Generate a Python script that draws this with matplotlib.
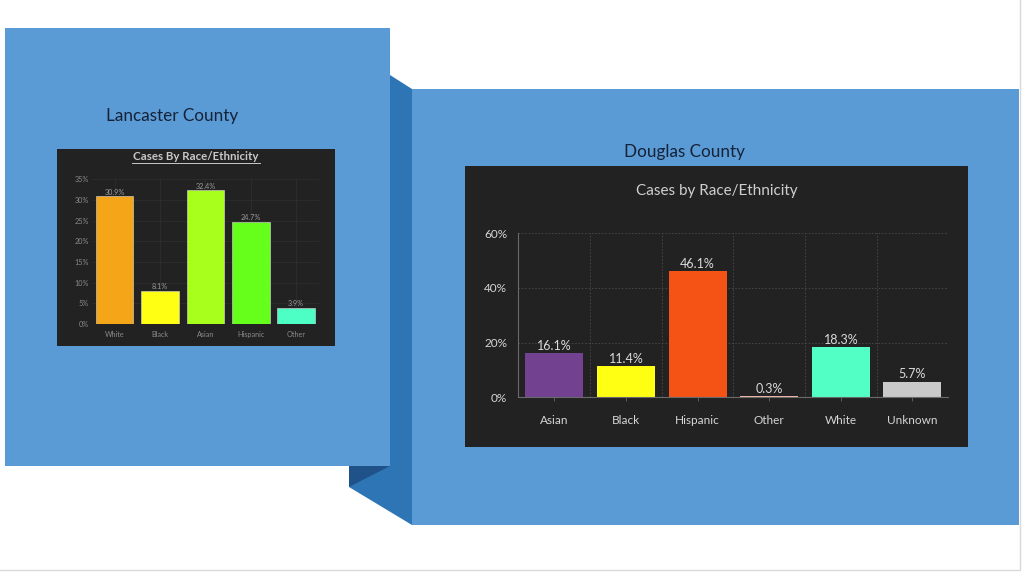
import numpy as np
import matplotlib
matplotlib.use('Agg')
import matplotlib.pyplot as plt
from matplotlib.patches import Rectangle, Polygon
from matplotlib.ticker import FuncFormatter

plt.rcParams['font.family'] = ['Lato', 'DejaVu Sans']

# ---------------------------------------------------------------------------
# data
# ---------------------------------------------------------------------------
lan_cats = ['White', 'Black', 'Asian', 'Hispanic', 'Other']
lan_vals = [30.9, 8.1, 32.4, 24.7, 3.9]
lan_colors = ['#F5A518', '#FFFF14', '#A8FF1C', '#66FF1C', '#4DFFC4']

dou_cats = ['Asian', 'Black', 'Hispanic', 'Other', 'White', 'Unknown']
dou_vals = [16.1, 11.4, 46.1, 0.3, 18.3, 5.7]
dou_colors = ['#724190', '#FFFF14', '#F55216', '#F2B8A8', '#52FFC4', '#C9C9C9']

W, H = 1024, 576
fig = plt.figure(figsize=(W / 100, H / 100), dpi=100)
fig.patch.set_facecolor('white')

# ---------------------------------------------------------------------------
# slide decoration (pixel coordinates)
# ---------------------------------------------------------------------------
deco = fig.add_axes([0, 0, 1, 1])
deco.set_xlim(0, W)
deco.set_ylim(H, 0)
deco.axis('off')

BLUE = '#5B9BD5'
DARK = '#2E75B6'
DARKER = '#1F5288'

# slide border
deco.plot([1020, 1020, 0], [0, 570, 570], color='#d9d9d9', lw=1)

# fold between the panels
deco.add_patch(Polygon([(390, 75), (412, 89), (412, 525), (349, 487),
                        (349, 466), (390, 466)], closed=True,
                       facecolor=DARK, edgecolor='none'))
deco.add_patch(Polygon([(349, 466), (390, 466), (349, 487)], closed=True,
                       facecolor=DARKER, edgecolor='none'))
# panels
deco.add_patch(Rectangle((5, 28), 385, 438, facecolor=BLUE, edgecolor='none'))
deco.add_patch(Rectangle((412, 89), 607, 436, facecolor=BLUE, edgecolor='none'))

deco.text(172, 116, 'Lancaster County', fontsize=12.3, color='#152238',
          ha='center', va='center')
deco.text(684, 152, 'Douglas County', fontsize=12.3, color='#152238',
          ha='center', va='center')

# chart backgrounds
deco.add_patch(Rectangle((57, 149), 278, 197, facecolor='#222222', edgecolor='none'))
deco.add_patch(Rectangle((465, 166), 503, 281, facecolor='#222222', edgecolor='none'))

# titles
deco.text(196, 156.5, 'Cases By Race/Ethnicity', fontsize=8.3, fontweight='bold',
          color='#c8c8c8', ha='center', va='center')
deco.plot([132, 260], [162.5, 162.5], color='#c8c8c8', lw=0.7)
deco.text(717, 191, 'Cases by Race/Ethnicity', fontsize=11,
          color='#cfcfcf', ha='center', va='center')

pct = FuncFormatter(lambda v, p: f'{v:.0f}%')

# ---------------------------------------------------------------------------
# Lancaster chart
# ---------------------------------------------------------------------------
ax1 = fig.add_axes([91.8 / W, (H - 324) / H, (318.9 - 91.8) / W, (324 - 179.3) / H])
ax1.set_facecolor('none')
x1 = np.arange(len(lan_cats))
ax1.bar(x1, lan_vals, width=0.83, color=lan_colors, edgecolor='#dddddd', linewidth=0.4)
for xi, v in zip(x1, lan_vals):
    ax1.annotate(f'{v:.1f}%', (xi, v), xytext=(0, 0.3), textcoords='offset points',
                 ha='center', va='bottom', fontsize=5.2, color='#9a9a9a')
ax1.set_xlim(-0.5, len(lan_cats) - 0.5)
ax1.set_ylim(0, 35)
ax1.set_yticks(np.arange(0, 36, 5))
ax1.yaxis.set_major_formatter(pct)
ax1.set_xticks(x1)
ax1.set_xticklabels(lan_cats)
ax1.tick_params(axis='both', labelsize=5.2, colors='#8a8a8a', length=0, pad=5)
ax1.tick_params(axis='y', pad=2)
ax1.grid(True, color='#333333', lw=0.4)
ax1.set_axisbelow(True)
for s in ax1.spines.values():
    s.set_visible(False)
ax1.axhline(0, color='#555555', lw=0.6)

# ---------------------------------------------------------------------------
# Douglas chart
# ---------------------------------------------------------------------------
ax2 = fig.add_axes([518.4 / W, (H - 397.3) / H, (948.3 - 518.4) / W, (397.3 - 233.3) / H])
ax2.set_facecolor('none')
x2 = np.arange(len(dou_cats))
ax2.bar(x2, dou_vals, width=0.81, color=dou_colors, edgecolor='none')
for xi, v in zip(x2, dou_vals):
    ax2.annotate(f'{v:.1f}%', (xi, v), xytext=(0, 1), textcoords='offset points',
                 ha='center', va='bottom', fontsize=9, color='#dadada')
ax2.set_xlim(-0.5, len(dou_cats) - 0.5)
ax2.set_ylim(0, 60)
ax2.set_yticks([0, 20, 40, 60])
ax2.yaxis.set_major_formatter(pct)
ax2.set_xticks(x2)
ax2.set_xticklabels(dou_cats)
ax2.tick_params(axis='x', labelsize=8.5, colors='#d6d6d6', length=3, width=0.6,
                pad=10)
ax2.tick_params(axis='x', color='#666666')
ax2.tick_params(axis='y', labelsize=8.5, colors='#d6d6d6', length=0, pad=8)
ax2.set_xticks(np.arange(0.5, len(dou_cats), 1), minor=True)
ax2.tick_params(axis='x', which='minor', length=0)
ax2.grid(True, axis='y', color='#4a4a4a', lw=0.6, ls=(0, (2, 2)))
ax2.grid(True, axis='x', which='minor', color='#4a4a4a', lw=0.6, ls=(0, (2, 2)))
ax2.grid(False, axis='x', which='major')
ax2.set_axisbelow(True)
for name, s in ax2.spines.items():
    if name in ('left', 'bottom'):
        s.set_color('#6a6a6a')
        s.set_linewidth(0.8)
    else:
        s.set_visible(False)

fig.savefig('out.png', dpi=100, facecolor='white')
